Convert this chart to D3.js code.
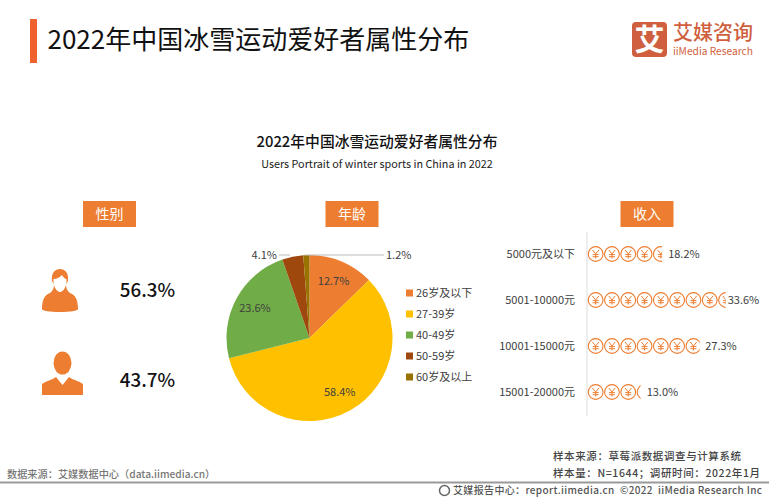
<!DOCTYPE html>
<html>
<head>
<meta charset="utf-8">
<script src="https://cdn.jsdelivr.net/npm/d3@7"></script>
<style>
  html, body { margin: 0; padding: 0; background: #fff; }
  text { font-family: "Noto Sans CJK SC", "Noto Sans", sans-serif; white-space: pre; }
</style>
</head>
<body>
<div id="chart"></div>
<script>
// Values
var mainTitle = "2022年中国冰雪运动爱好者属性分布";
var subTitle = "Users Portrait of winter sports in China in 2022";

var sectionNames = ["性别", "年龄", "收入"];
var genderValues = [56.3, 43.7];

var ageCategories = ["26岁及以下", "27-39岁", "40-49岁", "50-59岁", "60岁及以上"];
var ageValues = [12.7, 58.4, 23.6, 4.1, 1.2];
var ageColors = ["#ED7D31", "#FFC000", "#70AD47", "#9E480E", "#997300"];

var incomeCategories = ["5000元及以下", "5001-10000元", "10001-15000元", "15001-20000元"];
var incomeValues = [18.2, 33.6, 27.3, 13.0];

var orange = "#ED7D31";
var w = 769, h = 500;

//Create SVG element
var svg = d3.select("#chart")
    .append("svg")
    .attr("width", w)
    .attr("height", h)
    .style("display", "block");

// Page header
svg.append("rect").attr("x", 30).attr("y", 19).attr("width", 7).attr("height", 44).attr("fill", "#F0622D");
svg.append("text").attr("x", 47.5).attr("y", 48.5)
    .attr("font-size", 26).attr("fill", "#111").text(mainTitle);

// Logo
svg.append("rect").attr("x", 632).attr("y", 22).attr("width", 35).attr("height", 35).attr("rx", 4).attr("fill", "#CF5F3E");
svg.append("text").attr("x", 649.5).attr("y", 50).attr("text-anchor", "middle")
    .attr("font-size", 30).attr("font-weight", 700).attr("fill", "#fff").text("艾");
svg.append("text").attr("x", 673).attr("y", 40)
    .attr("font-size", 20).attr("font-weight", 500).attr("fill", "#CF5F3E").text("艾媒咨询");
svg.append("text").attr("x", 673).attr("y", 54.5)
    .attr("font-size", 10).attr("textLength", 80).attr("lengthAdjust", "spacingAndGlyphs")
    .attr("fill", "#CF5F3E").text("iiMedia Research");

// Chart title
svg.append("text").attr("x", 377).attr("y", 147).attr("text-anchor", "middle")
    .attr("font-size", 14.8).attr("font-weight", 500).attr("fill", "#111").text(mainTitle);
svg.append("text").attr("x", 377).attr("y", 168).attr("text-anchor", "middle")
    .attr("font-size", 10.8).attr("fill", "#222").text(subTitle);

// Section tags
var tagCenters = [109.5, 352, 647];
sectionNames.forEach(function(name, i) {
    svg.append("rect").attr("x", tagCenters[i] - 26.5).attr("y", 201)
        .attr("width", 53).attr("height", 26).attr("fill", orange);
    svg.append("text").attr("x", tagCenters[i]).attr("y", 219).attr("text-anchor", "middle")
        .attr("font-size", 14).attr("fill", "#fff").text(name);
});

// Gender icons
var female = svg.append("g").attr("fill", orange);
female.append("path").attr("d", "M42 309 C42 301 44 295 50 293 C53 291 54 288 54 284 L52 281 C51 273 55 269 60 269 C65 269 69 273 68 281 L66 284 C66 288 67 291 70 293 C76 295 78 301 78 309 C78 311 70 312 60 312 C50 312 42 311 42 309 Z");
female.append("path").attr("fill", "#fff").attr("d", "M53.5 279 C57 279 60 277 62 275 C63 277 65 279 66.5 279 C67 287 63 292 60 292 C57 292 53 287 53.5 279 Z");

var male = svg.append("g").attr("fill", orange);
male.append("ellipse").attr("cx", 62.5).attr("cy", 363).attr("rx", 9).attr("ry", 11.5);
male.append("path").attr("d", "M42 395 L42 384 C46 381 52 380 56 377 L62.5 385 L69 377 C73 380 79 381 83 384 L83 395 Z");

var genderY = d3.scalePoint().domain(d3.range(genderValues.length)).range([290, 380]);
svg.selectAll(".gender")
    .data(genderValues)
    .enter()
    .append("text")
    .attr("class", "gender")
    .attr("x", 147.5)
    .attr("y", function(d, i) { return genderY(i) + 7; })
    .attr("text-anchor", "middle")
    .attr("font-size", 18.8)
    .attr("font-weight", 500)
    .attr("fill", "#111")
    .text(function(d) { return d.toFixed(1) + "%"; });

// Age pie
var cx = 309.5, cy = 338, radius = 83;
var pie = d3.pie().sort(null);
var arc = d3.arc().innerRadius(0).outerRadius(radius);
var labelArc = d3.arc().innerRadius(62).outerRadius(62);
var arcs = pie(ageValues);
var pieG = svg.append("g").attr("transform", "translate(" + cx + "," + cy + ")");

pieG.selectAll(".slice")
    .data(arcs)
    .enter()
    .append("path")
    .attr("class", "slice")
    .attr("d", arc)
    .attr("fill", function(d, i) { return ageColors[i]; });

// Big slices get the label inside, small ones sit on a leader line
pieG.selectAll(".inLabel")
    .data(arcs.slice(0, 3))
    .enter()
    .append("text")
    .attr("class", "inLabel")
    .attr("transform", function(d) { return "translate(" + labelArc.centroid(d) + ")"; })
    .attr("dy", "0.35em")
    .attr("text-anchor", "middle")
    .attr("font-size", 11)
    .attr("fill", "#404040")
    .text(function(d) { return d.value.toFixed(1) + "%"; });

svg.append("path").attr("d", "M279 255 H290").attr("stroke", "#bbb").attr("fill", "none");
svg.append("path").attr("d", "M305 255 H384").attr("stroke", "#bbb").attr("fill", "none");
svg.append("text").attr("x", 277).attr("y", 255).attr("dy", "0.35em").attr("text-anchor", "end")
    .attr("font-size", 11).attr("fill", "#404040").text(ageValues[3].toFixed(1) + "%");
svg.append("text").attr("x", 386).attr("y", 255).attr("dy", "0.35em")
    .attr("font-size", 11).attr("fill", "#404040").text(ageValues[4].toFixed(1) + "%");

// Legend
var legendY = d3.scalePoint().domain(ageCategories).range([293, 377]);
var legend = svg.selectAll(".legend")
    .data(ageCategories)
    .enter()
    .append("g")
    .attr("class", "legend")
    .attr("transform", function(d) { return "translate(406," + legendY(d) + ")"; });
legend.append("rect").attr("y", -3.5).attr("width", 7).attr("height", 7)
    .attr("fill", function(d, i) { return ageColors[i]; });
legend.append("text").attr("x", 10).attr("dy", "0.35em")
    .attr("font-size", 11).attr("fill", "#404040")
    .text(function(d) { return d; });

// Income pictorial bars
var x0 = 587;
var xScale = d3.scaleLinear().domain([0, 33.6]).range([0, 138.7]);
var yScale = d3.scalePoint().domain(incomeCategories).range([254, 392]);
var iconSize = 16.3;

svg.append("line").attr("x1", x0).attr("x2", x0).attr("y1", 232).attr("y2", 416)
    .attr("stroke", "#ddd").attr("stroke-width", 1);

svg.selectAll(".incomeName")
    .data(incomeCategories)
    .enter()
    .append("text")
    .attr("class", "incomeName")
    .attr("x", 575)
    .attr("y", function(d) { return yScale(d); })
    .attr("dy", "0.35em")
    .attr("text-anchor", "end")
    .attr("font-size", 11)
    .attr("fill", "#404040")
    .text(function(d) { return d; });

var labelGap = [6, 2, 5.5, 6];
incomeCategories.forEach(function(cat, i) {
    var barW = xScale(incomeValues[i]);
    var clipId = "clip" + i;
    svg.append("clipPath").attr("id", clipId).append("rect")
        .attr("x", x0).attr("y", yScale(cat) - 10).attr("width", barW).attr("height", 20);

    var row = svg.append("g").attr("clip-path", "url(#" + clipId + ")");
    var coins = row.selectAll(".coin")
        .data(d3.range(Math.ceil(barW / iconSize)))
        .enter()
        .append("g")
        .attr("class", "coin")
        .attr("transform", function(n) {
            return "translate(" + (x0 + iconSize / 2 + 0.5 + n * iconSize) + "," + yScale(cat) + ")";
        });
    coins.append("circle").attr("r", 7.4).attr("fill", "#fff").attr("stroke", orange).attr("stroke-width", 1.1);
    coins.append("path")
        .attr("d", "M-3.2 -4 L0 0 L3.2 -4 M0 0 V4.5 M-3 0.6 H3 M-3 2.7 H3")
        .attr("fill", "none").attr("stroke", orange).attr("stroke-width", 1);

    svg.append("text")
        .attr("x", x0 + barW + labelGap[i])
        .attr("y", yScale(cat))
        .attr("dy", "0.35em")
        .attr("font-size", 11)
        .attr("fill", "#404040")
        .text(incomeValues[i].toFixed(1) + "%");
});

// Footer
svg.append("line").attr("x1", 0).attr("x2", w).attr("y1", 482.5).attr("y2", 482.5)
    .attr("stroke", "#999").attr("stroke-width", 2);
svg.append("text").attr("x", 7).attr("y", 478).attr("font-size", 10.2).attr("font-weight", 500)
    .attr("fill", "#777").text("数据来源：艾媒数据中心（data.iimedia.cn）");
svg.append("text").attr("x", 553).attr("y", 460).attr("font-size", 10.5).attr("font-weight", 500)
    .attr("textLength", 188).attr("fill", "#444").text("样本来源：草莓派数据调查与计算系统");
svg.append("text").attr("x", 553).attr("y", 477).attr("font-size", 10.5).attr("font-weight", 500)
    .attr("textLength", 207).attr("fill", "#444").text("样本量：N=1644；调研时间：2022年1月");
svg.append("circle").attr("cx", 444.5).attr("cy", 490.5).attr("r", 5)
    .attr("fill", "none").attr("stroke", "#666").attr("stroke-width", 1.5);
svg.append("text").attr("x", 453).attr("y", 494).attr("font-size", 10).attr("font-weight", 500)
    .attr("textLength", 309).attr("fill", "#555").text("艾媒报告中心：report.iimedia.cn  ©2022  iiMedia Research Inc");
</script>
</body>
</html>
